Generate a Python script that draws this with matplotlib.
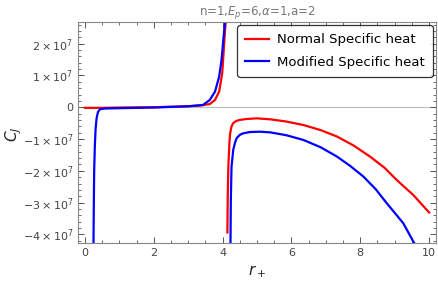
import numpy as np
import matplotlib
matplotlib.use("Agg")
import matplotlib.pyplot as plt
from matplotlib.ticker import MultipleLocator, FuncFormatter

# values (y in units of 1e7)
RED_L_X = [0.0, 0.5, 1.0, 2.0, 3.0, 3.4, 3.63, 3.78, 3.9, 3.99, 4.04, 4.07, 4.09]
RED_L_Y = [-0.02, -0.02, -0.01, 0.0, 0.03, 0.06, 0.1, 0.23, 0.49, 1.07, 1.9, 2.4, 2.68]
BLUE_L_X = [0.25, 0.26, 0.27, 0.29, 0.31, 0.34, 0.38, 0.44, 0.6, 1.0, 2.0, 3.0,
            3.43, 3.63, 3.78, 3.9, 3.97, 4.02, 4.07]
BLUE_L_Y = [-4.27, -3.0, -2.0, -1.2, -0.7, -0.35, -0.15, -0.06, -0.04, -0.03, -0.01, 0.03,
            0.07, 0.23, 0.49, 0.96, 1.49, 2.1, 2.68]
RED_R_X = [4.14, 4.15, 4.17, 4.2, 4.22, 4.26, 4.31, 4.4, 4.5, 4.7, 4.99, 5.38, 5.85,
           6.35, 6.85, 7.32, 7.8, 8.28, 8.7, 9.06, 9.54, 10.0]
RED_R_Y = [-3.94, -2.8, -1.8, -1.1, -0.82, -0.6, -0.5, -0.43, -0.4, -0.37, -0.35, -0.38,
           -0.45, -0.56, -0.72, -0.92, -1.2, -1.55, -1.9, -2.29, -2.76, -3.31]
BLUE_R_X = [4.23, 4.24, 4.26, 4.31, 4.36, 4.41, 4.5, 4.6, 4.8, 5.09, 5.38, 5.85,
            6.35, 6.85, 7.32, 7.7, 8.09, 8.45, 8.77, 9.0, 9.25, 9.56]
BLUE_R_Y = [-4.27, -2.9, -1.87, -1.34, -1.12, -0.97, -0.87, -0.82, -0.78, -0.77, -0.79,
            -0.88, -1.03, -1.26, -1.55, -1.84, -2.18, -2.58, -3.02, -3.32, -3.65, -4.26]

RED = "#ff0000"
BLUE = "#0000ff"
GRAY = "#555555"

def fmt(v, pos):
    n = int(round(v / 1e7))
    if n == 0:
        return "0"
    s = "-" if n < 0 else ""
    return r"$%s%d\times10^{7}$" % (s, abs(n))

fig = plt.figure(figsize=(4.38, 2.90), dpi=100)
ax = fig.add_axes([78/438, 1 - 243/290, (436-78)/438, (243-22)/290])

ax.axhline(0, color="#bbbbbb", lw=0.8, zorder=1)
ax.plot(RED_L_X, np.array(RED_L_Y) * 1e7, color=RED, lw=1.6, label="Normal Specific heat")
ax.plot(BLUE_L_X, np.array(BLUE_L_Y) * 1e7, color=BLUE, lw=1.6, label="Modified Specific heat")
ax.plot(RED_R_X, np.array(RED_R_Y) * 1e7, color=RED, lw=1.6)
ax.plot(BLUE_R_X, np.array(BLUE_R_Y) * 1e7, color=BLUE, lw=1.6)

ax.set_xlim(-0.2, 10.2)
ax.set_ylim(-4.27e7, 2.68e7)
ax.xaxis.set_major_locator(MultipleLocator(2))
ax.xaxis.set_minor_locator(MultipleLocator(0.5))
ax.yaxis.set_major_locator(MultipleLocator(1e7))
ax.yaxis.set_minor_locator(MultipleLocator(0.2e7))
ax.yaxis.set_major_formatter(FuncFormatter(fmt))
ax.tick_params(which="both", direction="in", top=True, right=True, colors=GRAY,
               labelsize=8, labelcolor="#444444")
ax.tick_params(which="major", length=4, width=0.7)
ax.tick_params(which="minor", length=2, width=0.6)
for s in ax.spines.values():
    s.set_color("#888888")
    s.set_linewidth(0.8)

ax.set_title(r"n=1,$E_p$=6,$\alpha$=1,a=2", fontsize=8.5, color="#777777", pad=5)
ax.set_xlabel(r"$r_+$", fontsize=11, color="#222222")
ax.set_ylabel(r"$C_J$", fontsize=11, color="#222222")
ax.yaxis.set_label_coords(-54/358, 0.49)

leg = ax.legend(loc="upper right", fontsize=9.5, frameon=True, fancybox=True,
                edgecolor="black", handlelength=1.8, handletextpad=0.6,
                labelspacing=0.75, borderpad=0.6, borderaxespad=0.25)
leg.get_frame().set_linewidth(0.9)

fig.savefig("out.png", dpi=100)
